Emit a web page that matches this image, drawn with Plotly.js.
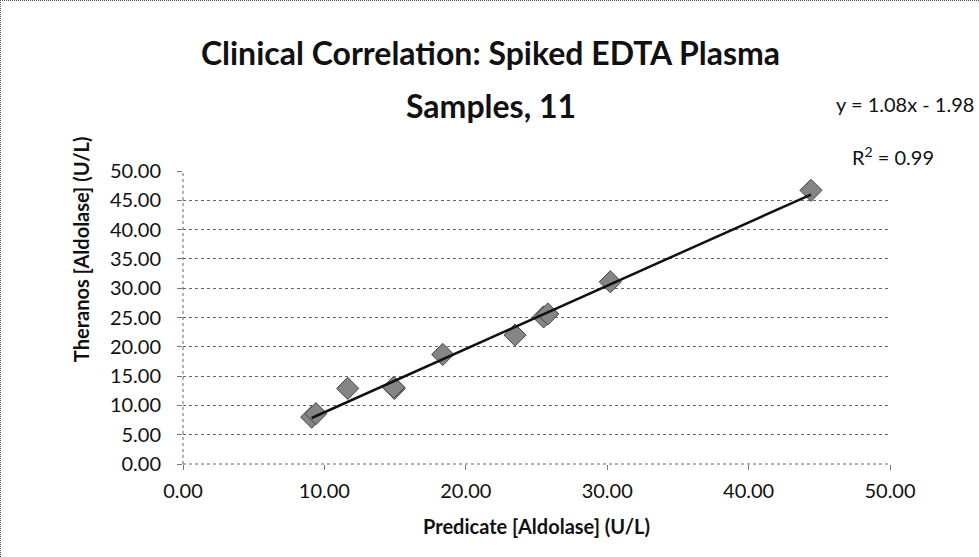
<!DOCTYPE html>
<html>
<head>
<meta charset="utf-8">
<script src="https://cdn.plot.ly/plotly-3.0.1.min.js"></script>
<style>
  html, body { margin: 0; padding: 0; background: #fff; }
  #chart { width: 979px; height: 557px; box-sizing: border-box;
           border-top: 1px dotted #555; border-left: 1px dotted #555; }
</style>
</head>
<body>
<div id="chart"></div>
<script>
// Aldolase activity, predicate method vs. Theranos, spiked EDTA plasma
const predicate = [9.1, 9.4, 11.65, 14.95, 18.37, 23.48, 25.5, 25.8, 30.22, 44.41, 14.9];
const theranos  = [8.0, 8.6, 12.9, 12.9, 18.7, 22.0, 25.1, 25.6, 31.1, 46.7, 13.1];

// Linear fit reported on the chart
const slope = 1.08;
const intercept = -1.98;
const rSquared = 0.99;

const xTicks = [0, 10, 20, 30, 40, 50];
const yTicks = [0, 5, 10, 15, 20, 25, 30, 35, 40, 45, 50];

const titleLine1 = 'Clinical Correlation: Spiked EDTA Plasma';
const titleLine2 = 'Samples, 11';
const yTitle = 'Theranos [Aldolase] (U/L)';
const xTitle = 'Predicate [Aldolase] (U/L)';

const xMin = Math.min(...predicate);
const xMax = Math.max(...predicate);
const fitX = [xMin, xMax];
const fitY = fitX.map(x => slope * x + intercept);

const font = "Lato, 'Open Sans', sans-serif";

const traces = [
  {
    x: predicate, y: theranos, type: 'scatter', mode: 'markers',
    marker: { symbol: 'diamond', size: 17, color: '#858585',
              line: { color: '#444', width: 1 } },
    hoverinfo: 'x+y'
  },
  {
    x: fitX, y: fitY, type: 'scatter', mode: 'lines',
    line: { color: '#111', width: 2.5 }, hoverinfo: 'skip'
  }
];

const fmt = v => v.toFixed(2);

const layout = {
  width: 979, height: 557,
  margin: { l: 182, r: 90, t: 170, b: 94 },
  paper_bgcolor: '#fff', plot_bgcolor: '#fff',
  showlegend: false,
  font: { family: font, color: '#111', size: 20 },
  title: {
    text: '<b>' + titleLine1 + '</b>',
    font: { family: font, size: 32, color: '#111' },
    x: 0.5, xanchor: 'center', yref: 'container', y: 0.905, yanchor: 'middle'
  },
  xaxis: {
    range: [0, 50], tickvals: xTicks, ticktext: xTicks.map(fmt),
    showgrid: false, zeroline: false, showline: false,
    ticks: 'outside', ticklen: 5, tickcolor: '#777', tickwidth: 1,
    ticklabelstandoff: 4,
    tickfont: { family: font, size: 20, color: '#111' },
    title: { text: '<b>' + xTitle + '</b>', standoff: 18,
             font: { family: font, size: 20, color: '#111' } },
    fixedrange: true
  },
  yaxis: {
    range: [0, 50], tickvals: yTicks, ticktext: yTicks.map(fmt),
    showgrid: true, gridcolor: '#666', gridwidth: 1, griddash: 'dot',
    zeroline: false, showline: false,
    ticks: 'outside', ticklen: 5, tickcolor: '#777', tickwidth: 1,
    ticklabelstandoff: 12,
    tickfont: { family: font, size: 20, color: '#111' },
    fixedrange: true
  },
  shapes: [
    { type: 'line', xref: 'paper', yref: 'paper', x0: 0, x1: 0, y0: 0, y1: 1,
      line: { color: '#666', width: 1, dash: 'dot' } },
    { type: 'line', xref: 'paper', yref: 'paper', x0: 0, x1: 1, y0: 0, y1: 0,
      line: { color: '#666', width: 1, dash: 'dot' } }
  ],
  annotations: [
    { xref: 'paper', yref: 'paper', x: 0.435, y: 1.225, xanchor: 'center', yanchor: 'middle',
      text: '<b>' + titleLine2 + '</b>',
      showarrow: false, font: { family: font, size: 32, color: '#111' } },
    // vertical axis title, set higher than the plot's middle
    { xref: 'paper', yref: 'paper', x: -0.145, y: 0.735, xanchor: 'center', yanchor: 'middle',
      text: '<b>' + yTitle + '</b>', textangle: -90,
      showarrow: false, font: { family: font, size: 20, color: '#111' } },
    { xref: 'paper', yref: 'paper', x: 1.122, y: 1.228, xanchor: 'right', yanchor: 'middle',
      text: 'y = ' + slope.toFixed(2) + 'x - ' + Math.abs(intercept).toFixed(2),
      showarrow: false, font: { family: font, size: 20, color: '#111' } },
    { xref: 'paper', yref: 'paper', x: 1.065, y: 1.05, xanchor: 'right', yanchor: 'middle',
      text: 'R<sup>2</sup> = ' + rSquared.toFixed(2),
      showarrow: false, font: { family: font, size: 20, color: '#111' } }
  ]
};

Plotly.newPlot('chart', traces, layout, { displayModeBar: false, staticPlot: true });
</script>
</body>
</html>
